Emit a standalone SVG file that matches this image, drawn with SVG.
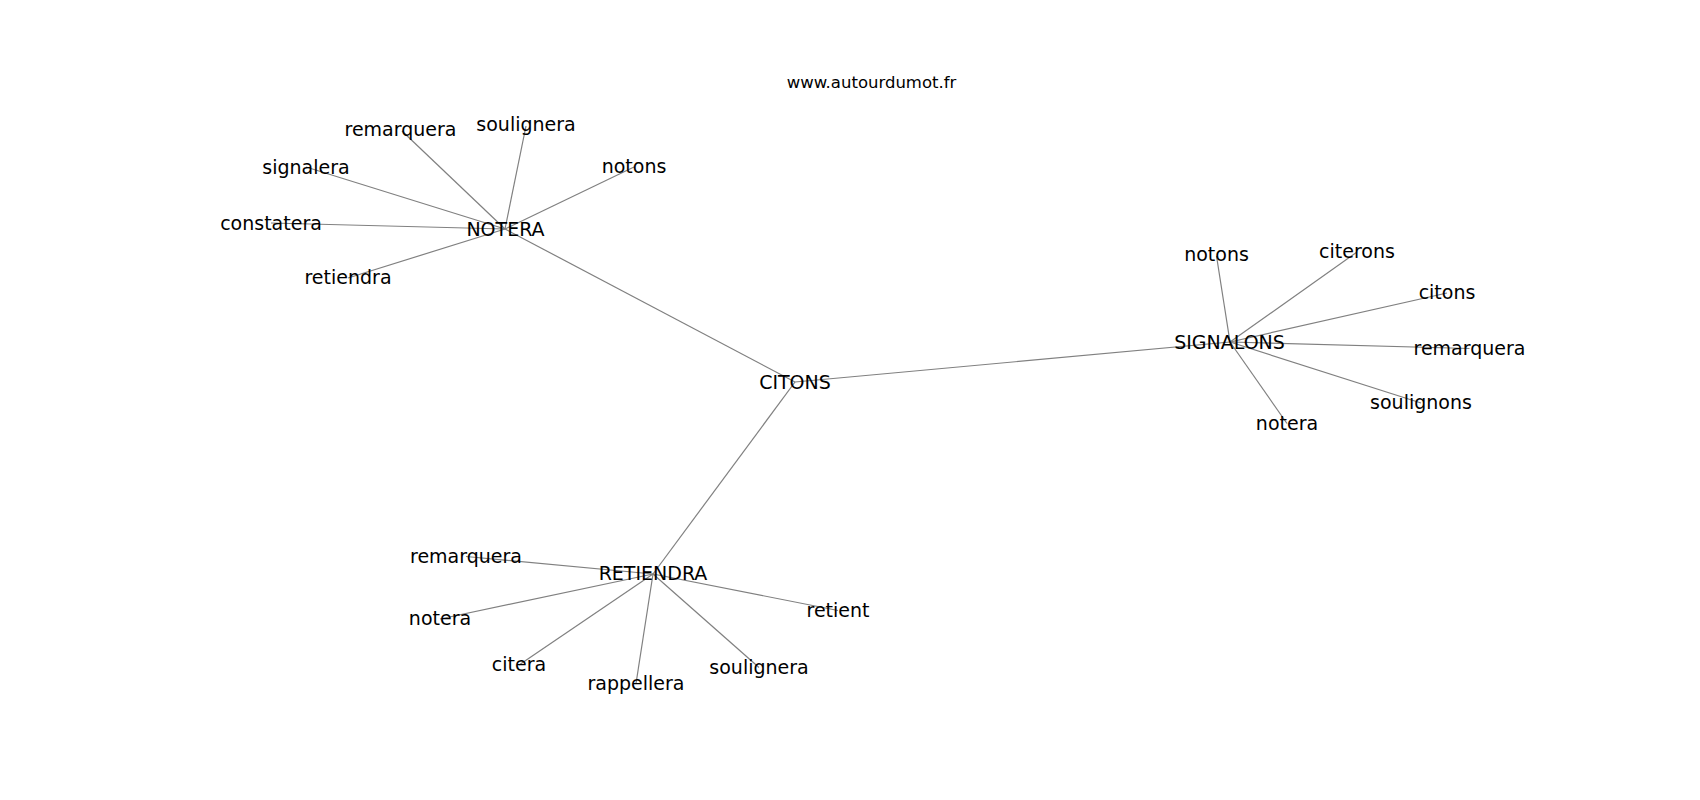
<svg xmlns="http://www.w3.org/2000/svg" width="1700" height="800" viewBox="0 0 1700 800">
<style>
.lbl{font-family:"DejaVu Sans",sans-serif;font-size:19px;fill:#000;text-anchor:middle}
.title{font-family:"DejaVu Sans",sans-serif;font-size:16.5px;fill:#000;text-anchor:middle}
#edges line{stroke:#808080;stroke-width:1.2;fill:none}
</style>
<rect width="1700" height="800" fill="#fff"/>
<text class="title" x="871.5" y="88">www.autourdumot.fr</text>
<g id="edges">
<line x1="795" y1="382" x2="505" y2="229"/>
<line x1="795" y1="382" x2="1230" y2="342"/>
<line x1="795" y1="382" x2="653" y2="574"/>
<line x1="505" y1="229" x2="402" y2="131"/>
<line x1="505" y1="229" x2="526" y2="126"/>
<line x1="505" y1="229" x2="306" y2="167"/>
<line x1="505" y1="229" x2="634" y2="167"/>
<line x1="505" y1="229" x2="271" y2="223"/>
<line x1="505" y1="229" x2="348" y2="278"/>
<line x1="1230" y1="342" x2="1216.5" y2="256"/>
<line x1="1230" y1="342" x2="1357" y2="252"/>
<line x1="1230" y1="342" x2="1447" y2="293"/>
<line x1="1230" y1="342" x2="1469.5" y2="348.5"/>
<line x1="1230" y1="342" x2="1421" y2="403"/>
<line x1="1230" y1="342" x2="1287" y2="423.5"/>
<line x1="653" y1="574" x2="466" y2="556.5"/>
<line x1="653" y1="574" x2="440" y2="619"/>
<line x1="653" y1="574" x2="519" y2="665"/>
<line x1="653" y1="574" x2="636" y2="683.5"/>
<line x1="653" y1="574" x2="759" y2="667.5"/>
<line x1="653" y1="574" x2="838" y2="610.5"/>
</g>
<g id="n-citons"><text class="lbl" x="795" y="388.5">CITONS</text></g>
<g id="n-notera"><text class="lbl" x="505.5" y="235.5">NOTERA</text></g>
<g id="n-signalons"><text class="lbl" x="1229.5" y="348.5">SIGNALONS</text></g>
<g id="n-retiendra"><text class="lbl" x="653" y="579.5">RETIENDRA</text></g>
<g id="n-notera-remarquera"><text class="lbl" x="400.5" y="136">remarquera</text></g>
<g id="n-notera-soulignera"><text class="lbl" x="526" y="131">soulignera</text></g>
<g id="n-notera-signalera"><text class="lbl" x="306" y="173.5">signalera</text></g>
<g id="n-notera-notons"><text class="lbl" x="634" y="173">notons</text></g>
<g id="n-notera-constatera"><text class="lbl" x="271" y="229.5">constatera</text></g>
<g id="n-notera-retiendra"><text class="lbl" x="348" y="284">retiendra</text></g>
<g id="n-signalons-notons"><text class="lbl" x="1216.5" y="261">notons</text></g>
<g id="n-signalons-citerons"><text class="lbl" x="1357" y="257.5">citerons</text></g>
<g id="n-signalons-citons"><text class="lbl" x="1447" y="299">citons</text></g>
<g id="n-signalons-remarquera"><text class="lbl" x="1469.5" y="354.5">remarquera</text></g>
<g id="n-signalons-soulignons"><text class="lbl" x="1421" y="408.5">soulignons</text></g>
<g id="n-signalons-notera"><text class="lbl" x="1287" y="429.5">notera</text></g>
<g id="n-retiendra-remarquera"><text class="lbl" x="466" y="562.5">remarquera</text></g>
<g id="n-retiendra-notera"><text class="lbl" x="440" y="625">notera</text></g>
<g id="n-retiendra-citera"><text class="lbl" x="519" y="671">citera</text></g>
<g id="n-retiendra-rappellera"><text class="lbl" x="636" y="689.5">rappellera</text></g>
<g id="n-retiendra-soulignera"><text class="lbl" x="759" y="673.5">soulignera</text></g>
<g id="n-retiendra-retient"><text class="lbl" x="838" y="616.5">retient</text></g>
</svg>
